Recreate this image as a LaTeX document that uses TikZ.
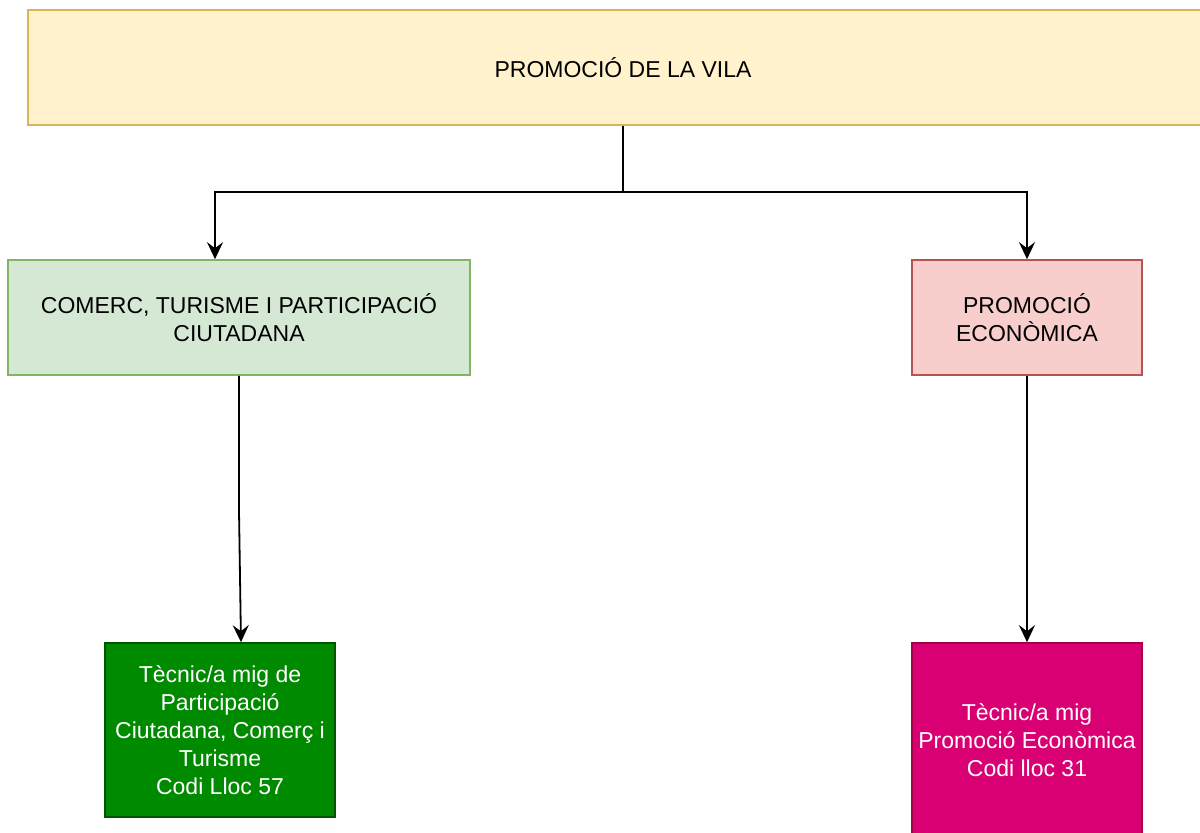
\documentclass[tikz,border=0pt]{standalone}
\usepackage{fontspec}
\setmainfont{Liberation Sans}
\usetikzlibrary{arrows.meta}

\definecolor{vilafill}{HTML}{FFF2CC}
\definecolor{viladraw}{HTML}{D6B656}
\definecolor{comfill}{HTML}{D5E8D4}
\definecolor{comdraw}{HTML}{82B366}
\definecolor{profill}{HTML}{F8CECC}
\definecolor{prodraw}{HTML}{B85450}
\definecolor{tecAfill}{HTML}{008A00}
\definecolor{tecAdraw}{HTML}{005700}
\definecolor{tecBfill}{HTML}{D80073}
\definecolor{tecBdraw}{HTML}{A50040}

\begin{document}
\begin{tikzpicture}[x=0.5pt,y=-0.5pt,->,>={Stealth[length=8.5pt,width=8pt,inset=3pt]},line width=0.9pt,
  box/.style={rectangle,draw,line width=0.8pt,align=center,inner sep=0pt,
    font=\fontsize{11.5}{14}\selectfont},
  area/.style={box,minimum height=57.5pt},
  post/.style={box,text=white,minimum width=115pt}]

\useasboundingbox (0,0) rectangle (1200,833);

\node[area,fill=vilafill,draw=viladraw,minimum width=595pt] (vila) at (623,67.5) {PROMOCIÓ DE LA VILA};
\node[area,fill=comfill,draw=comdraw,minimum width=231pt] (comerc) at (239,317.5) {COMERC, TURISME I PARTICIPACIÓ\\CIUTADANA};
\node[area,fill=profill,draw=prodraw,minimum width=115pt] (promo) at (1027,317.5) {PROMOCIÓ\\ECONÒMICA};

\node[post,fill=tecAfill,draw=tecAdraw,minimum height=87pt] (tecA) at (220,730) {Tècnic/a mig de\\Participació\\Ciutadana, Comerç i\\Turisme\\Codi Lloc 57};
\node[post,fill=tecBfill,draw=tecBdraw,minimum height=97pt] (tecB) at (1027,740) {Tècnic/a mig\\Promoció Econòmica\\Codi lloc 31};

\draw (vila.south) -- ++(0,66) -| ([xshift=-12pt]comerc.north);
\draw (vila.south) -- ++(0,66) -| (promo.north);
\draw (comerc.south) -- ++(0,135) -- ([xshift=10.5pt]tecA.north);
\draw (promo.south) -- (tecB.north);
\end{tikzpicture}
\end{document}
